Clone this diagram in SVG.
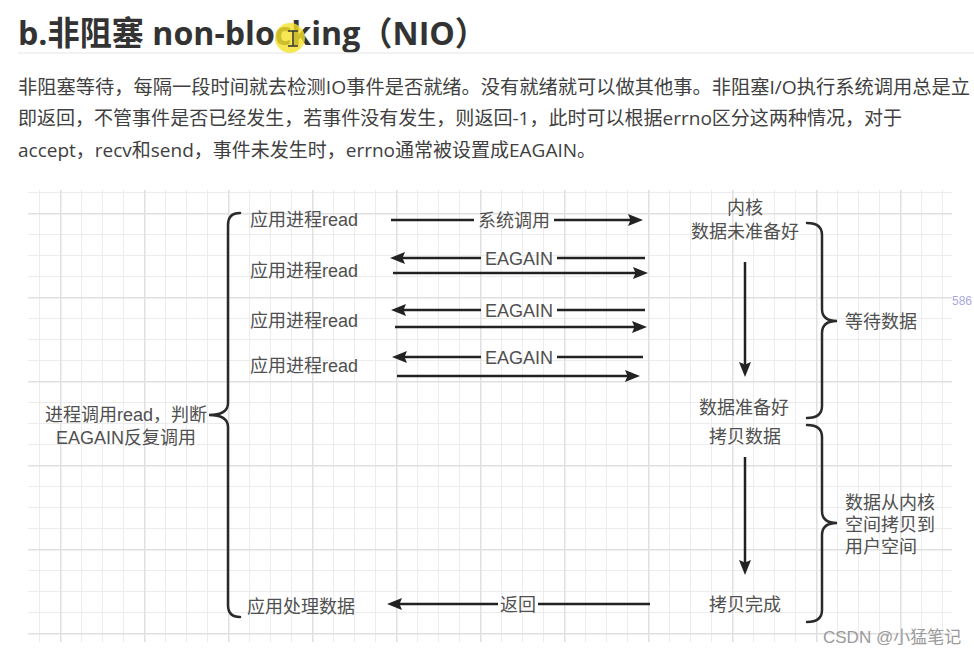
<svg xmlns="http://www.w3.org/2000/svg" width="974" height="654" viewBox="0 0 974 654">
  <style>
    .title { font-family: "Open Sans", "Noto Sans CJK SC", sans-serif; font-weight: bold; font-size: 33px; fill: #333333; }
    .para { font-family: "Open Sans", "Noto Sans CJK SC", sans-serif; font-size: 19px; fill: #404040; }
    .t { font-family: "Liberation Sans", "Noto Sans CJK SC", sans-serif; font-size: 18px; fill: #505050; dominant-baseline: central; }
    .mid { text-anchor: middle; }
    .ln { stroke: #222222; stroke-width: 2.5; fill: none; }
    .arr { stroke: #222222; stroke-width: 2.5; fill: none; marker-end: url(#ah); }
    .brace { stroke: #2a2a2a; stroke-width: 2.5; fill: none; stroke-linecap: round; }
    .wm { font-family: "Liberation Sans", "Noto Sans CJK SC", sans-serif; font-size: 17px; fill: #9a9a9a; }
  </style>
  <defs>
    <marker id="ah" markerUnits="userSpaceOnUse" markerWidth="16" markerHeight="12" refX="3" refY="6" orient="auto">
      <path d="M0,0 L15,6 L0,12 L2.5,6 z" fill="#222222"/>
    </marker>
    <pattern id="gminor" patternUnits="userSpaceOnUse" x="39" y="192" width="21" height="21">
      <rect x="0" y="0" width="21" height="1" fill="#ececec"/>
      <rect x="0" y="0" width="1" height="21" fill="#ececec"/>
    </pattern>
    <pattern id="gmajor" patternUnits="userSpaceOnUse" x="60" y="213" width="84" height="84">
      <rect x="0" y="0" width="84" height="1.5" fill="#e0e0e0"/>
      <rect x="0" y="0" width="1.5" height="84" fill="#e0e0e0"/>
    </pattern>
  </defs>

  <rect width="974" height="654" fill="#ffffff"/>

  <!-- heading -->
  <g id="heading">
    <text class="title" x="18" y="45" textLength="469" lengthAdjust="spacingAndGlyphs">b.非阻塞 non-blocking（NIO）</text>
    <line x1="18" y1="53" x2="974" y2="53" stroke="#eeeeee" stroke-width="1.5"/>
    <circle cx="290" cy="38" r="15" fill="#f5e12a" opacity="0.8"/>
    <path d="M288,31 H298 M293,31 V46 M288,46 H298" stroke="#333" stroke-width="1.5" fill="none"/>
  </g>

  <!-- paragraph -->
  <g id="paragraph">
    <text class="para" x="18" y="94" textLength="952" lengthAdjust="spacingAndGlyphs">非阻塞等待，每隔一段时间就去检测IO事件是否就绪。没有就绪就可以做其他事。非阻塞I/O执行系统调用总是立</text>
    <text class="para" x="18" y="125" textLength="884" lengthAdjust="spacingAndGlyphs">即返回，不管事件是否已经发生，若事件没有发生，则返回-1，此时可以根据errno区分这两种情况，对于</text>
    <text class="para" x="18" y="157" textLength="578" lengthAdjust="spacingAndGlyphs">accept，recv和send，事件未发生时，errno通常被设置成EAGAIN。</text>
  </g>

  <!-- grid background -->
  <g id="grid">
    <rect x="28" y="190" width="924" height="452" fill="url(#gminor)"/>
    <rect x="28" y="190" width="924" height="452" fill="url(#gmajor)"/>
  </g>

  <!-- nodes -->
  <g id="app-read-1"><text class="t" x="250" y="220">应用进程read</text></g>
  <g id="app-read-2"><text class="t" x="250" y="271">应用进程read</text></g>
  <g id="app-read-3"><text class="t" x="250" y="321">应用进程read</text></g>
  <g id="app-read-4"><text class="t" x="250" y="366">应用进程read</text></g>
  <g id="app-process"><text class="t" x="247" y="607">应用处理数据</text></g>

  <g id="left-label">
    <text class="t mid" x="126" y="415">进程调用read，判断</text>
    <text class="t mid" x="126" y="438">EAGAIN反复调用</text>
  </g>

  <g id="kernel-not-ready">
    <text class="t mid" x="745" y="208">内核</text>
    <text class="t mid" x="745" y="232">数据未准备好</text>
  </g>
  <g id="kernel-ready"><text class="t mid" x="744" y="408">数据准备好</text></g>
  <g id="copy-data"><text class="t mid" x="745" y="437">拷贝数据</text></g>
  <g id="copy-done"><text class="t mid" x="745" y="605">拷贝完成</text></g>

  <g id="wait-label"><text class="t" x="845" y="322">等待数据</text></g>
  <g id="copy-label">
    <text class="t" x="845" y="503">数据从内核</text>
    <text class="t" x="845" y="525">空间拷贝到</text>
    <text class="t" x="845" y="547">用户空间</text>
  </g>

  <!-- braces -->
  <g id="braces">
    <path class="brace" d="M240,213 Q228,213 228,225 L228,403 Q228,415 209,415 Q228,415 228,427 L228,605 Q228,617 240,617"/>
    <path class="brace" d="M807,223 Q822,223 822,235 L822,309 Q822,321 837,321 Q822,321 822,333 L822,406 Q822,418 807,418"/>
    <path class="brace" d="M807,425 Q822,425 822,437 L822,511 Q822,523 837,523 Q822,523 822,535 L822,610 Q822,622 807,622"/>
  </g>

  <!-- connectors -->
  <g id="connectors">
    <path class="ln" d="M391,220 H474"/>
    <path class="arr" d="M554,220 H631"/>
    <text class="t mid" x="514" y="221">系统调用</text>

    <path class="ln" d="M645,258 H557"/>
    <path class="arr" d="M481,258 H402"/>
    <text class="t mid" x="519" y="259">EAGAIN</text>
    <path class="arr" d="M393,273 H636"/>

    <path class="ln" d="M645,310 H557"/>
    <path class="arr" d="M481,310 H403"/>
    <text class="t mid" x="519" y="311">EAGAIN</text>
    <path class="arr" d="M395,327 H635"/>

    <path class="ln" d="M643,357 H557"/>
    <path class="arr" d="M481,357 H404"/>
    <text class="t mid" x="519" y="358">EAGAIN</text>
    <path class="arr" d="M397,376 H628"/>

    <path class="arr" d="M745,262 V365"/>
    <path class="arr" d="M745,457 V563"/>

    <path class="ln" d="M650,604 H538"/>
    <path class="arr" d="M498,604 H399"/>
    <text class="t mid" x="518" y="605">返回</text>
  </g>

  <!-- overlays -->
  <g id="watermark">
    <text class="wm" x="823" y="643">CSDN @小猛笔记</text>
  </g>
  <g id="side-number">
    <text x="952" y="305" font-family="Liberation Sans, sans-serif" font-size="12" fill="#a8a8e0">586</text>
  </g>
</svg>
